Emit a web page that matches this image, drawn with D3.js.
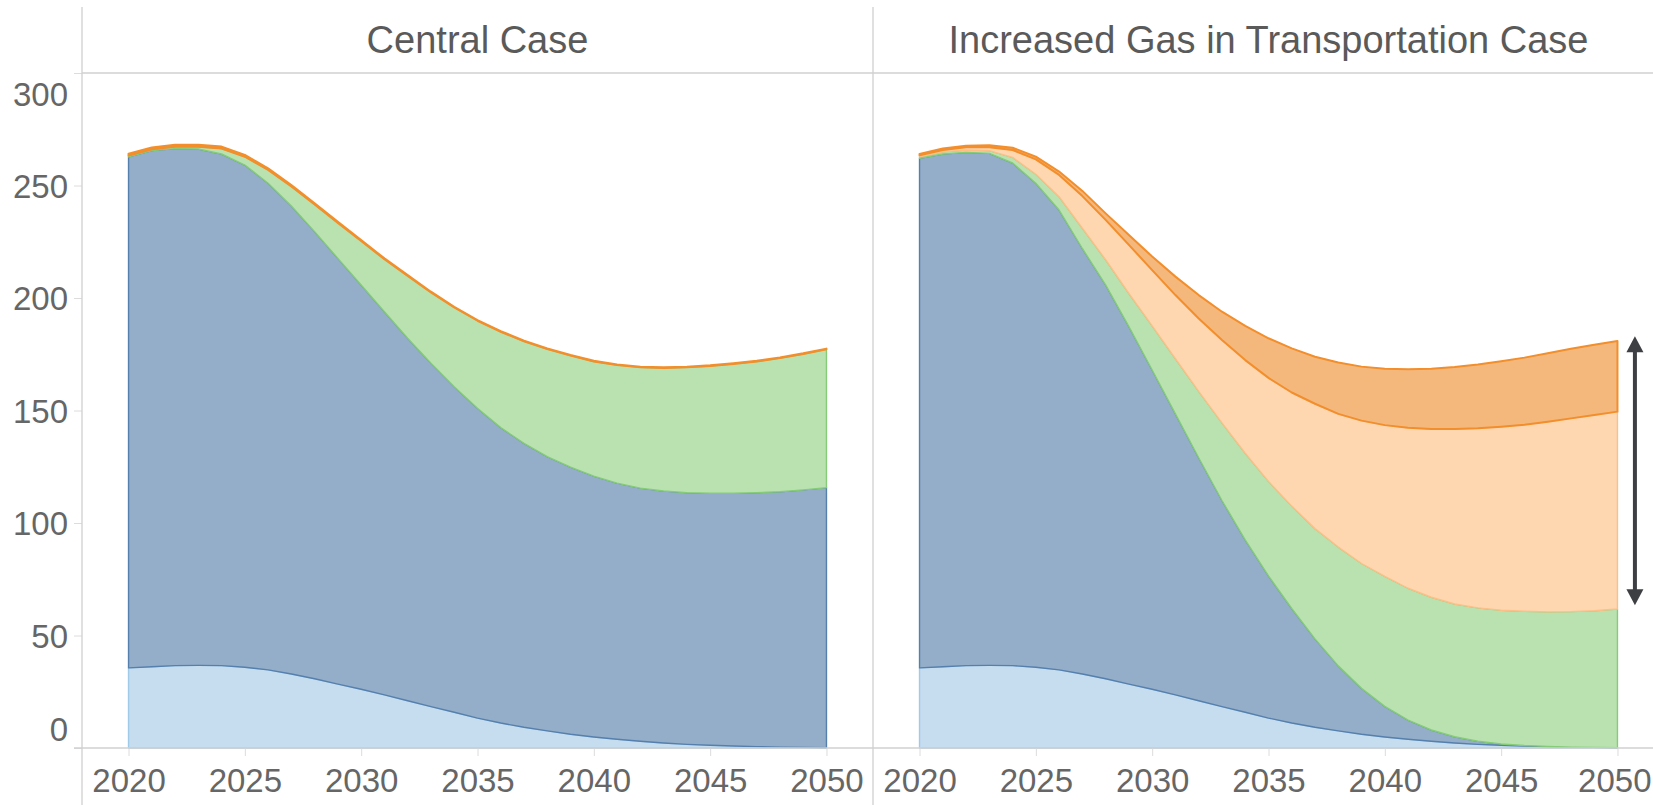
<!DOCTYPE html>
<html><head><meta charset="utf-8">
<script src="https://cdn.jsdelivr.net/npm/d3@7"></script>
<style>
html,body{margin:0;padding:0;background:#fff;}
svg{display:block;font-family:"Liberation Sans",Arial,sans-serif;}
</style></head><body>
<svg id="chart" width="1653" height="805"></svg>
<script>
// ---------- data ----------
const years = [2020,2021,2022,2023,2024,2025,2026,2027,2028,2029,2030,2031,2032,2033,2034,2035,2036,2037,2038,2039,2040,2041,2042,2043,2044,2045,2046,2047,2048,2049,2050];
const panelTitles = ["Central Case", "Increased Gas in Transportation Case"];
const xTickValues = [2020,2025,2030,2035,2040,2045,2050];
const yTickValues = [0,50,100,150,200,250,300];

// Central Case (stacked, bottom to top)
const centralLightBlue = [35.6,36.1,36.6,36.7,36.6,35.9,34.7,32.9,30.8,28.4,26.1,23.6,21.0,18.4,15.9,13.3,11.1,9.2,7.6,6.1,4.9,3.9,3.0,2.2,1.6,1.2,0.9,0.6,0.4,0.3,0.1];
const centralDarkBlue  = [227.2,229.4,229.8,229.5,227.4,223.2,216.3,208.0,198.7,189.2,179.7,170.3,161.1,152.6,144.7,137.7,131.3,126.2,121.9,118.7,115.9,113.8,112.5,112.0,111.9,112.0,112.3,112.9,113.5,114.4,115.6];
const centralGreen     = [0.5,0.6,0.8,1.0,2.4,3.7,5.9,8.7,12.1,15.8,19.6,23.3,27.7,31.5,35.2,38.9,42.6,45.3,47.8,49.6,51.0,52.5,53.7,54.7,55.7,56.6,57.5,58.3,59.4,60.4,61.5];
const centralOrange    = [0.8,0.8,0.9,0.9,0.9,0.8,0.7,0.6,0.5,0.5,0.4,0.4,0.4,0.3,0.3,0.3,0.3,0.3,0.3,0.3,0.3,0.3,0.3,0.3,0.3,0.3,0.3,0.3,0.3,0.3,0.3];

// Increased Gas in Transportation Case
const transLightBlue = [35.6,36.1,36.6,36.7,36.6,35.9,34.7,32.9,30.8,28.4,26.1,23.6,21.0,18.4,15.9,13.3,11.1,9.2,7.6,6.1,4.9,3.9,3.0,2.2,1.6,1.2,0.9,0.6,0.4,0.3,0.1];
const transDarkBlue  = [226.5,227.9,228.1,227.6,223.4,215.1,204.4,189.1,175.0,158.9,141.9,124.9,108.0,91.6,76.6,63.2,50.9,39.3,28.9,20.4,13.6,8.5,5.0,2.8,1.4,0.6,0.2,0.1,0,0,0];
const transGreen     = [0.7,1.0,1.1,1.2,2.5,4.0,5.9,9.0,11.2,14.7,19.6,24.5,29.5,34.5,38.5,42.0,45.5,49.0,52.8,55.5,57.8,58.6,59.0,59.0,59.3,59.4,59.7,59.8,60.2,60.7,61.7];
const transPeach     = [0.6,0.8,1.2,1.5,3.3,6.6,9.7,14.3,17.7,21.6,24.8,28.3,32.4,36.8,41.4,46.0,50.5,55.5,59.2,63.5,67.2,71.3,74.8,77.8,79.8,81.6,82.9,84.5,85.9,87.0,87.7];
const transOrange    = [0.6,0.7,0.7,0.9,1.0,1.2,1.5,2.3,2.9,4.4,6.0,8.2,10.4,12.6,15.2,17.6,19.6,20.9,22.8,24.0,25.1,26.0,26.8,27.5,28.3,29.1,29.8,30.4,30.9,31.2,31.4];

// annotation arrow (right panel, just beyond 2050)
const arrowYear = 2050.75;
const arrowFrom = 63.5;
const arrowTo = 183;

// ---------- styles ----------
const fills   = {lightBlue:"#c6ddf0", darkBlue:"#94adc8", green:"#b9e2b0", peach:"#fed6b0", orange:"#f5b87c"};
const strokes = {lightBlue:"#a0cbe8", darkBlue:"#5580ae", green:"#86cc78", peach:"#fbc089", orange:"#f28e2b"};
const gridColor = "#d0d0d0";

const svg = d3.select("#chart");
const W = 1653, H = 805;
const yAxisX = 82, divX = 873, panelW = 791;
const y = d3.scaleLinear().domain([0,300]).range([748,73]);

const panels = [
  {title: panelTitles[0], x0: yAxisX, series: {lightBlue:centralLightBlue, darkBlue:centralDarkBlue, green:centralGreen, orange:centralOrange}},
  {title: panelTitles[1], x0: divX, series: {lightBlue:transLightBlue, darkBlue:transDarkBlue, green:transGreen, peach:transPeach, orange:transOrange}}
];

panels.forEach((p, pi) => {
  const x = d3.scaleLinear().domain([2018, 2052]).range([p.x0, p.x0 + panelW]);
  p.x = x;
  const keys = Object.keys(p.series);
  const rows = years.map((yr, i) => {
    const r = {year: yr};
    keys.forEach(k => r[k] = p.series[k][i]);
    return r;
  });
  const stacked = d3.stack().keys(keys)(rows);
  const area = d3.area().x(d => x(d.data.year)).y0(d => y(d[0])).y1(d => y(d[1]));
  const g = svg.append("g");
  g.selectAll("path").data(stacked).join("path")
    .attr("d", area)
    .attr("fill", d => fills[d.key])
    .attr("stroke", d => strokes[d.key])
    .attr("stroke-width", d => d.key === "orange" ? 2 : 1.4)
    .attr("stroke-linejoin", "round");

  // x axis
  const xa = svg.append("g").attr("transform", "translate(0,748)")
    .call(d3.axisBottom(x).tickValues(xTickValues).tickFormat(d3.format("d")).tickSize(8).tickPadding(0));
  xa.select(".domain").remove();
  xa.selectAll(".tick line").attr("stroke", "#dcdcdc").attr("stroke-width", 1);
  xa.selectAll(".tick text").attr("y", 44).attr("dy", 0)
    .attr("font-size", 33).attr("fill", "#666").attr("font-family", "Liberation Sans, Arial, sans-serif");
  // keep labels inside the picture
  xa.selectAll(".tick text").each(function(d) {
    const b = this.getBBox();
    const tx = x(d);
    const right = tx + b.x + b.width;
    if (right > W - 2) d3.select(this).attr("x", (W - 2) - right);
  });

  // title
  svg.append("text").attr("x", p.x0 + panelW / 2).attr("y", 53)
    .attr("text-anchor", "middle").attr("font-size", 38).attr("fill", "#5a5a5a")
    .text(p.title);
});

// y axis
const ya = svg.append("g").attr("transform", `translate(${yAxisX},0)`)
  .call(d3.axisLeft(y).tickValues(yTickValues).tickSize(8).tickPadding(6));
ya.select(".domain").remove();
ya.selectAll(".tick line").attr("stroke", "#dcdcdc");
ya.selectAll(".tick text").attr("font-size", 33).attr("fill", "#666")
  .attr("font-family", "Liberation Sans, Arial, sans-serif")
  .attr("dy", d => d === 300 ? "32px" : d === 0 ? "-8px" : "0.36em");

// frame lines
svg.append("line").attr("x1", yAxisX).attr("x2", yAxisX).attr("y1", 7).attr("y2", H).attr("stroke", gridColor).attr("stroke-width", 1.3);
svg.append("line").attr("x1", divX).attr("x2", divX).attr("y1", 7).attr("y2", H).attr("stroke", gridColor).attr("stroke-width", 1.3);
svg.append("line").attr("x1", yAxisX).attr("x2", W).attr("y1", y(300)).attr("y2", y(300)).attr("stroke", gridColor).attr("stroke-width", 1.3);
svg.append("line").attr("x1", yAxisX - 8).attr("x2", W).attr("y1", y(0)).attr("y2", y(0)).attr("stroke", gridColor).attr("stroke-width", 1.3);

// arrow annotation
const ax = panels[1].x(arrowYear);
const yTop = y(arrowTo), yBot = y(arrowFrom);
const headL = 16, headW = 8.5;
const arrowColor = "#3e3f43";
svg.append("line").attr("x1", ax).attr("x2", ax).attr("y1", yTop + headL - 1).attr("y2", yBot - headL + 1)
  .attr("stroke", arrowColor).attr("stroke-width", 4);
svg.append("path").attr("d", `M${ax},${yTop} L${ax + headW},${yTop + headL} L${ax - headW},${yTop + headL} Z`).attr("fill", arrowColor);
svg.append("path").attr("d", `M${ax},${yBot} L${ax + headW},${yBot - headL} L${ax - headW},${yBot - headL} Z`).attr("fill", arrowColor);
</script>
</body></html>
